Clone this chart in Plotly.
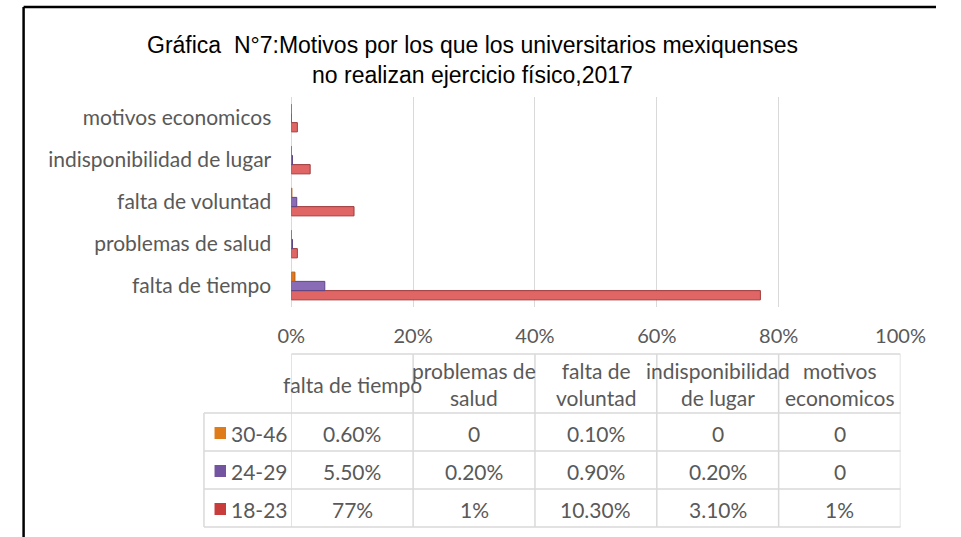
import plotly.graph_objects as go

# ---------------- data ----------------
categories = ["falta de tiempo", "problemas de salud", "falta de voluntad",
              "indisponibilidad de lugar", "motivos economicos"]
header_labels = ["falta de tiempo", "problemas de<br>salud", "falta de<br>voluntad",
                 "indisponibilidad<br>de lugar", "motivos<br>economicos"]
series_names = ["18-23", "24-29", "30-46"]
values_18_23 = [77, 1, 10.3, 3.1, 1]
values_24_29 = [5.5, 0.2, 0.9, 0.2, 0]
values_30_46 = [0.6, 0, 0.1, 0, 0]
text_18_23 = ["77%", "1%", "10.30%", "3.10%", "1%"]
text_24_29 = ["5.50%", "0.20%", "0.90%", "0.20%", "0"]
text_30_46 = ["0.60%", "0", "0.10%", "0", "0"]
x_ticks = [0, 20, 40, 60, 80, 100]
title_text = "Gráfica  N°7:Motivos por los que los universitarios mexiquenses<br>no realizan ejercicio físico,2017"

colors = {"18-23": "#E06666", "24-29": "#8A6BB5", "30-46": "#E3761C"}
edge = {"18-23": "#9E3A3A", "24-29": "#5E4585", "30-46": "#B35A10"}
swatch = {"18-23": "#C83C3C", "24-29": "#7354A0", "30-46": "#E07B1A"}

W, H = 961, 537
def px(x):
    return x / W
def py(y):
    return 1 - y / H

FONT = "Lato, 'Open Sans', sans-serif"
FS = 21
GREY = "#595959"
GRID = "#D9D9D9"

fig = go.Figure()
for name, vals in [("18-23", values_18_23), ("24-29", values_24_29), ("30-46", values_30_46)]:
    fig.add_trace(go.Bar(
        y=categories, x=vals, orientation="h", name=name,
        marker=dict(color=colors[name], line=dict(color=edge[name], width=1)),
        hoverinfo="x+y+name",
    ))

fig.update_layout(
    width=W, height=H,
    margin=dict(l=0, r=0, t=0, b=0),
    paper_bgcolor="white", plot_bgcolor="white",
    barmode="group", bargap=0.34, bargroupgap=0,
    showlegend=False,
    font=dict(family=FONT, size=FS, color=GREY),
    xaxis=dict(domain=[px(289), px(924)], range=[0, 100], tickvals=x_ticks,
               ticktext=[f"{v}%" for v in x_ticks], showgrid=True, gridcolor=GRID,
               gridwidth=1, zeroline=True, zerolinecolor=GRID, zerolinewidth=1,
               showline=False, ticks="", ticklabelstandoff=15,
               tickfont=dict(family=FONT, size=20, color=GREY), fixedrange=True),
    yaxis=dict(domain=[py(307), py(97)], type="category", categoryorder="array",
               categoryarray=categories, showgrid=False, zeroline=False, showline=False,
               ticks="", ticklabelstandoff=19,
               tickfont=dict(family=FONT, size=FS, color=GREY), fixedrange=True),
)

# title
fig.add_annotation(text=title_text, xref="paper", yref="paper", x=px(478), y=py(60),
                   xanchor="center", yanchor="middle", showarrow=False,
                   font=dict(family="'Liberation Sans', Arial, sans-serif", size=23, color="#000000"))

# outer frame (top and left black lines)
fig.add_shape(type="line", xref="paper", yref="paper", x0=px(10), x1=1, y0=py(7), y1=py(7),
              line=dict(color="black", width=2.5))
fig.add_shape(type="line", xref="paper", yref="paper", x0=px(10), x1=px(10), y0=py(7), y1=0,
              line=dict(color="black", width=2.5))

# ---------------- data table ----------------
col_edges = [0, 20, 40, 60, 80, 100]
col_centers = [10, 30, 50, 70, 90]
table_left = 198
header_top = 354
row_edges = [413, 451, 489, 527]
line_style = dict(color=GRID, width=1.5)

fig.add_shape(type="line", xref="x", yref="paper", x0=0, x1=100, y0=py(header_top), y1=py(header_top),
              line=line_style)
for ry in row_edges:
    fig.add_shape(type="line", xref="paper", yref="paper", x0=px(table_left), x1=px(924),
                  y0=py(ry), y1=py(ry), line=line_style)
for ce in col_edges:
    fig.add_shape(type="line", xref="x", yref="paper", x0=ce, x1=ce, y0=py(header_top),
                  y1=py(row_edges[-1]), line=line_style)
fig.add_shape(type="line", xref="paper", yref="paper", x0=px(table_left), x1=px(table_left),
              y0=py(row_edges[0]), y1=py(row_edges[-1]), line=line_style)

for cx, lab in zip(col_centers, header_labels):
    fig.add_annotation(text=lab, xref="x", yref="paper", x=cx, y=py(384), xanchor="center",
                       yanchor="middle", showarrow=False, align="center",
                       font=dict(family=FONT, size=FS, color=GREY))

rows = [("30-46", text_30_46), ("24-29", text_24_29), ("18-23", text_18_23)]
for i, (name, texts) in enumerate(rows):
    yc = (row_edges[i] + row_edges[i + 1]) / 2 + 1
    fig.add_shape(type="rect", xref="paper", yref="paper", x0=px(209), x1=px(221),
                  y0=py(yc - 6), y1=py(yc + 6), fillcolor=swatch[name], line=dict(width=0))
    fig.add_annotation(text=name, xref="paper", yref="paper", x=px(224), y=py(yc),
                       xanchor="left", yanchor="middle", showarrow=False,
                       font=dict(family=FONT, size=FS, color=GREY))
    for cx, t in zip(col_centers, texts):
        fig.add_annotation(text=t, xref="x", yref="paper", x=cx, y=py(yc), xanchor="center",
                           yanchor="middle", showarrow=False,
                           font=dict(family=FONT, size=FS, color=GREY))

fig.write_html("out.html", config={"displayModeBar": False},
               post_script="document.body.style.margin='0';document.body.style.overflow='hidden';")
